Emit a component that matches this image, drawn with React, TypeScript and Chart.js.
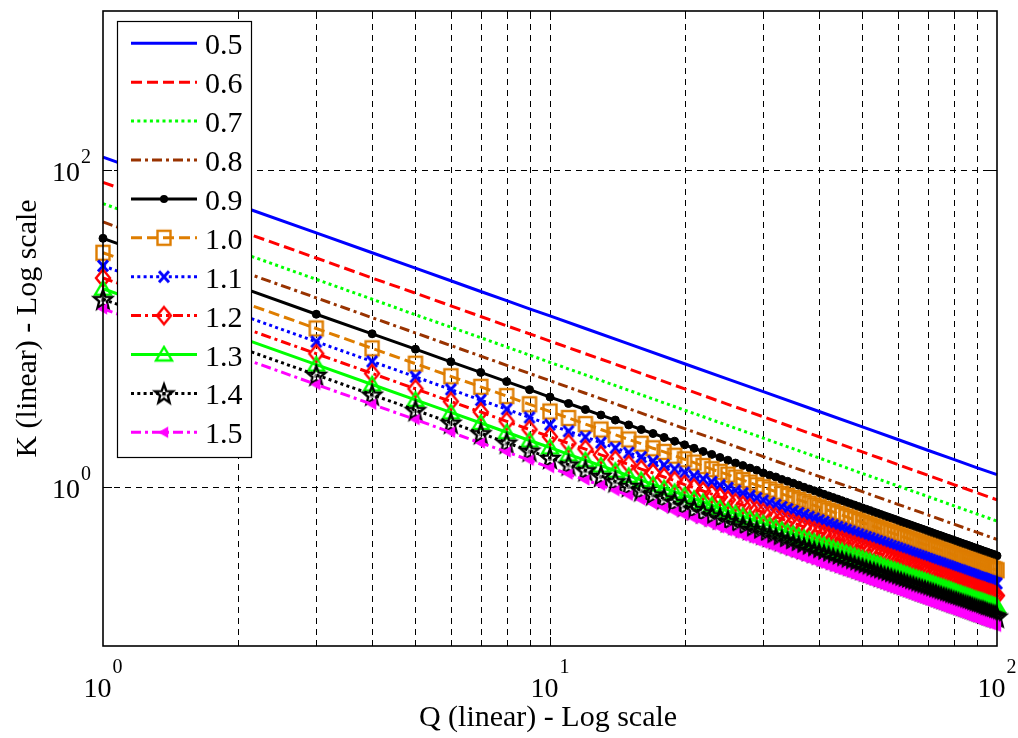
import React, { useEffect, useRef } from "react";
import { Chart, registerables } from "chart.js";

Chart.register(...registerables);

// ---------- data ----------
const Q_ALL = [
  1, 2, 3, 4, 5, 6, 7, 8, 9, 10,
  11, 12, 13, 14, 15, 16, 17, 18, 19, 20,
  21, 22, 23, 24, 25, 26, 27, 28, 29, 30,
  31, 32, 33, 34, 35, 36, 37, 38, 39, 40,
  41, 42, 43, 44, 45, 46, 47, 48, 49, 50,
  51, 52, 53, 54, 55, 56, 57, 58, 59, 60,
  61, 62, 63, 64, 65, 66, 67, 68, 69, 70,
  71, 72, 73, 74, 75, 76, 77, 78, 79, 80,
  81, 82, 83, 84, 85, 86, 87, 88, 89, 90,
  91, 92, 93, 94, 95, 96, 97, 98, 99, 100,
];
const Q_SPARSE = [1, 2, 3, 4, 5, 6, 7, 8, 9, 10, 12, 15, 20, 25, 30, 40, 50, 60, 70, 80, 90, 100];

const K_05 = [120, 60, 40, 30, 24, 20, 17.1, 15, 13.3, 12, 10, 8, 6, 4.8, 4, 3, 2.4, 2, 1.71, 1.5, 1.33, 1.2];
const K_06 = [83.3, 41.7, 27.8, 20.8, 16.7, 13.9, 11.9, 10.4, 9.26, 8.33, 6.94, 5.56, 4.17, 3.33, 2.78, 2.08, 1.67, 1.39, 1.19, 1.04, 0.926, 0.833];
const K_07 = [61.2, 30.6, 20.4, 15.3, 12.2, 10.2, 8.75, 7.65, 6.8, 6.12, 5.1, 4.08, 3.06, 2.45, 2.04, 1.53, 1.22, 1.02, 0.875, 0.765, 0.68, 0.612];
const K_08 = [46.9, 23.4, 15.6, 11.7, 9.38, 7.81, 6.7, 5.86, 5.21, 4.69, 3.91, 3.13, 2.34, 1.88, 1.56, 1.17, 0.938, 0.781, 0.67, 0.586, 0.521, 0.469];

const K_09 = [
  37.0, 18.5, 12.3, 9.26, 7.41, 6.17, 5.29, 4.63, 4.12, 3.7,
  3.37, 3.09, 2.85, 2.65, 2.47, 2.31, 2.18, 2.06, 1.95, 1.85,
  1.76, 1.68, 1.61, 1.54, 1.48, 1.42, 1.37, 1.32, 1.28, 1.23,
  1.19, 1.16, 1.12, 1.09, 1.06, 1.03, 1.0, 0.975, 0.95, 0.926,
  0.903, 0.882, 0.861, 0.842, 0.823, 0.805, 0.788, 0.772, 0.756, 0.741,
  0.726, 0.712, 0.699, 0.686, 0.673, 0.661, 0.65, 0.639, 0.628, 0.617,
  0.607, 0.597, 0.588, 0.579, 0.57, 0.561, 0.553, 0.545, 0.537, 0.529,
  0.522, 0.514, 0.507, 0.5, 0.494, 0.487, 0.481, 0.475, 0.469, 0.463,
  0.457, 0.452, 0.446, 0.441, 0.436, 0.431, 0.426, 0.421, 0.416, 0.412,
  0.407, 0.403, 0.398, 0.394, 0.39, 0.386, 0.382, 0.378, 0.374, 0.37,
];
const K_10 = [
  30, 15, 10, 7.5, 6, 5, 4.29, 3.75, 3.33, 3,
  2.73, 2.5, 2.31, 2.14, 2, 1.88, 1.76, 1.67, 1.58, 1.5,
  1.43, 1.36, 1.3, 1.25, 1.2, 1.15, 1.11, 1.07, 1.03, 1,
  0.968, 0.938, 0.909, 0.882, 0.857, 0.833, 0.811, 0.789, 0.769, 0.75,
  0.732, 0.714, 0.698, 0.682, 0.667, 0.652, 0.638, 0.625, 0.612, 0.6,
  0.588, 0.577, 0.566, 0.556, 0.545, 0.536, 0.526, 0.517, 0.508, 0.5,
  0.492, 0.484, 0.476, 0.469, 0.462, 0.455, 0.448, 0.441, 0.435, 0.429,
  0.423, 0.417, 0.411, 0.405, 0.4, 0.395, 0.39, 0.385, 0.38, 0.375,
  0.37, 0.366, 0.361, 0.357, 0.353, 0.349, 0.345, 0.341, 0.337, 0.333,
  0.33, 0.326, 0.323, 0.319, 0.316, 0.313, 0.309, 0.306, 0.303, 0.3,
];
const K_11 = [
  24.8, 12.4, 8.26, 6.2, 4.96, 4.13, 3.54, 3.1, 2.75, 2.48,
  2.25, 2.07, 1.91, 1.77, 1.65, 1.55, 1.46, 1.38, 1.3, 1.24,
  1.18, 1.13, 1.08, 1.03, 0.992, 0.953, 0.918, 0.885, 0.855, 0.826,
  0.8, 0.775, 0.751, 0.729, 0.708, 0.689, 0.67, 0.652, 0.636, 0.62,
  0.605, 0.59, 0.577, 0.563, 0.551, 0.539, 0.527, 0.516, 0.506, 0.496,
  0.486, 0.477, 0.468, 0.459, 0.451, 0.443, 0.435, 0.427, 0.42, 0.413,
  0.406, 0.4, 0.393, 0.387, 0.381, 0.376, 0.37, 0.365, 0.359, 0.354,
  0.349, 0.344, 0.34, 0.335, 0.331, 0.326, 0.322, 0.318, 0.314, 0.31,
  0.306, 0.302, 0.299, 0.295, 0.292, 0.288, 0.285, 0.282, 0.279, 0.275,
  0.272, 0.269, 0.267, 0.264, 0.261, 0.258, 0.256, 0.253, 0.25, 0.248,
];
const K_12 = [
  20.8, 10.4, 6.94, 5.21, 4.17, 3.47, 2.98, 2.6, 2.31, 2.08,
  1.89, 1.74, 1.6, 1.49, 1.39, 1.3, 1.23, 1.16, 1.1, 1.04,
  0.992, 0.947, 0.906, 0.868, 0.833, 0.801, 0.772, 0.744, 0.718, 0.694,
  0.672, 0.651, 0.631, 0.613, 0.595, 0.579, 0.563, 0.548, 0.534, 0.521,
  0.508, 0.496, 0.484, 0.473, 0.463, 0.453, 0.443, 0.434, 0.425, 0.417,
  0.408, 0.401, 0.393, 0.386, 0.379, 0.372, 0.365, 0.359, 0.353, 0.347,
  0.341, 0.336, 0.331, 0.325, 0.32, 0.316, 0.311, 0.306, 0.302, 0.298,
  0.293, 0.289, 0.285, 0.281, 0.278, 0.274, 0.271, 0.267, 0.264, 0.26,
  0.257, 0.254, 0.251, 0.248, 0.245, 0.242, 0.239, 0.237, 0.234, 0.231,
  0.229, 0.226, 0.224, 0.222, 0.219, 0.217, 0.215, 0.213, 0.21, 0.208,
];
const K_13 = [
  17.8, 8.88, 5.92, 4.44, 3.55, 2.96, 2.54, 2.22, 1.97, 1.78,
  1.61, 1.48, 1.37, 1.27, 1.18, 1.11, 1.04, 0.986, 0.934, 0.888,
  0.845, 0.807, 0.772, 0.74, 0.71, 0.683, 0.657, 0.634, 0.612, 0.592,
  0.573, 0.555, 0.538, 0.522, 0.507, 0.493, 0.48, 0.467, 0.455, 0.444,
  0.433, 0.423, 0.413, 0.403, 0.394, 0.386, 0.378, 0.37, 0.362, 0.355,
  0.348, 0.341, 0.335, 0.329, 0.323, 0.317, 0.311, 0.306, 0.301, 0.296,
  0.291, 0.286, 0.282, 0.277, 0.273, 0.269, 0.265, 0.261, 0.257, 0.254,
  0.25, 0.247, 0.243, 0.24, 0.237, 0.234, 0.231, 0.228, 0.225, 0.222,
  0.219, 0.216, 0.214, 0.211, 0.209, 0.206, 0.204, 0.202, 0.199, 0.197,
  0.195, 0.193, 0.191, 0.189, 0.187, 0.185, 0.183, 0.181, 0.179, 0.178,
];
const K_14 = [
  15.3, 7.65, 5.1, 3.83, 3.06, 2.55, 2.19, 1.91, 1.7, 1.53,
  1.39, 1.28, 1.18, 1.09, 1.02, 0.957, 0.901, 0.851, 0.806, 0.766,
  0.729, 0.696, 0.666, 0.638, 0.612, 0.589, 0.567, 0.547, 0.528, 0.51,
  0.494, 0.478, 0.464, 0.45, 0.437, 0.425, 0.414, 0.403, 0.393, 0.383,
  0.373, 0.365, 0.356, 0.348, 0.34, 0.333, 0.326, 0.319, 0.312, 0.306,
  0.3, 0.294, 0.289, 0.284, 0.278, 0.273, 0.269, 0.264, 0.259, 0.255,
  0.251, 0.247, 0.243, 0.239, 0.236, 0.232, 0.229, 0.225, 0.222, 0.219,
  0.216, 0.213, 0.21, 0.207, 0.204, 0.201, 0.199, 0.196, 0.194, 0.191,
  0.189, 0.187, 0.184, 0.182, 0.18, 0.178, 0.176, 0.174, 0.172, 0.17,
  0.168, 0.166, 0.165, 0.163, 0.161, 0.159, 0.158, 0.156, 0.155, 0.153,
];
const K_15 = [
  13.3, 6.67, 4.44, 3.33, 2.67, 2.22, 1.9, 1.67, 1.48, 1.33,
  1.21, 1.11, 1.03, 0.952, 0.889, 0.833, 0.784, 0.741, 0.702, 0.667,
  0.635, 0.606, 0.58, 0.556, 0.533, 0.513, 0.494, 0.476, 0.46, 0.444,
  0.43, 0.417, 0.404, 0.392, 0.381, 0.37, 0.36, 0.351, 0.342, 0.333,
  0.325, 0.317, 0.31, 0.303, 0.296, 0.29, 0.284, 0.278, 0.272, 0.267,
  0.261, 0.256, 0.252, 0.247, 0.242, 0.238, 0.234, 0.23, 0.226, 0.222,
  0.219, 0.215, 0.212, 0.208, 0.205, 0.202, 0.199, 0.196, 0.193, 0.19,
  0.188, 0.185, 0.183, 0.18, 0.178, 0.175, 0.173, 0.171, 0.169, 0.167,
  0.165, 0.163, 0.161, 0.159, 0.157, 0.155, 0.153, 0.152, 0.15, 0.148,
  0.146, 0.145, 0.143, 0.142, 0.14, 0.139, 0.137, 0.136, 0.135, 0.133,
];

const SERIES_LABELS = ["0.5", "0.6", "0.7", "0.8", "0.9", "1.0", "1.1", "1.2", "1.3", "1.4", "1.5"];
const SERIES_Q = [Q_SPARSE, Q_SPARSE, Q_SPARSE, Q_SPARSE, Q_ALL, Q_ALL, Q_ALL, Q_ALL, Q_ALL, Q_ALL, Q_ALL];
const SERIES_K = [K_05, K_06, K_07, K_08, K_09, K_10, K_11, K_12, K_13, K_14, K_15];

const X_TICKS = [1, 10, 100];
const X_TICK_EXP = ["0", "1", "2"];
const X_GRID = [2, 3, 4, 5, 6, 7, 8, 9, 10, 20, 30, 40, 50, 60, 70, 80, 90];
const Y_TICKS = [1, 100];
const Y_TICK_EXP = ["0", "2"];

const X_TITLE = "Q (linear) - Log scale";
const Y_TITLE = "K (linear) - Log scale";

// ---------- styles ----------
const FONT = "'Liberation Serif', 'Times New Roman', serif";
const ORANGE = "rgb(222,125,0)";
const BROWN = "rgb(153,51,0)";
const LINE_W = 3;

function mk(w: number, h: number, draw: (c: CanvasRenderingContext2D, cx: number, cy: number) => void) {
  const pad = 3;
  let cw = Math.ceil(w + 2 * pad);
  let ch = Math.ceil(h + 2 * pad);
  if (cw % 2) cw++;
  if (ch % 2) ch++;
  const cv = document.createElement("canvas");
  cv.width = cw;
  cv.height = ch;
  const c = cv.getContext("2d")!;
  c.lineJoin = "miter";
  draw(c, cw / 2, ch / 2);
  return cv;
}

function buildMarkers() {
  const square = mk(13, 14, (c, cx, cy) => {
    c.strokeStyle = ORANGE;
    c.lineWidth = 2.4;
    c.strokeRect(cx - 6.5, cy - 7, 13, 14);
  });
  const cross = mk(11, 12, (c, cx, cy) => {
    c.strokeStyle = "#0000ff";
    c.lineWidth = 3;
    c.beginPath();
    c.moveTo(cx - 5, cy - 5.5);
    c.lineTo(cx + 5, cy + 5.5);
    c.moveTo(cx + 5, cy - 5.5);
    c.lineTo(cx - 5, cy + 5.5);
    c.stroke();
  });
  const diamond = mk(14, 17, (c, cx, cy) => {
    c.strokeStyle = "#ff0000";
    c.lineWidth = 2.4;
    c.beginPath();
    c.moveTo(cx, cy - 8.5);
    c.lineTo(cx + 7, cy);
    c.lineTo(cx, cy + 8.5);
    c.lineTo(cx - 7, cy);
    c.closePath();
    c.stroke();
  });
  const triangle = mk(16, 14, (c, cx, cy) => {
    c.strokeStyle = "#00ff00";
    c.lineWidth = 2.4;
    c.beginPath();
    c.moveTo(cx, cy - 7.5);
    c.lineTo(cx + 8, cy + 6);
    c.lineTo(cx - 8, cy + 6);
    c.closePath();
    c.stroke();
  });
  const star = mk(20, 20, (c, cx, cy) => {
    c.strokeStyle = "#000000";
    c.fillStyle = "#000000";
    c.lineWidth = 2.4;
    c.beginPath();
    for (let i = 0; i < 10; i++) {
      const a = -Math.PI / 2 + (i * Math.PI) / 5;
      const r = i % 2 === 0 ? 9.5 : 4;
      const px = cx + r * Math.cos(a);
      const py = cy + 1 + r * Math.sin(a) * 1.05;
      if (i === 0) c.moveTo(px, py);
      else c.lineTo(px, py);
    }
    c.closePath();
    c.stroke();
    c.fillStyle = "rgba(0,0,0,0.55)";
    c.beginPath();
    c.arc(cx, cy + 1, 2.2, 0, Math.PI * 2);
    c.fill();
  });
  const left = mk(8, 9, (c, cx, cy) => {
    c.fillStyle = "#ff00ff";
    c.strokeStyle = "#ff00ff";
    c.lineWidth = 1.4;
    c.beginPath();
    c.moveTo(cx - 4.5, cy);
    c.lineTo(cx + 3.5, cy - 4.5);
    c.lineTo(cx + 3.5, cy + 4.5);
    c.closePath();
    c.fill();
    c.stroke();
  });
  return { square, cross, diamond, triangle, star, left };
}

type Style = {
  color: string;
  dash: number[];
  marker: null | "dot" | HTMLCanvasElement;
};

function drawPow(
  ctx: CanvasRenderingContext2D,
  x: number,
  baseY: number,
  exp: string,
  align: "center" | "right",
  rise: number
) {
  const baseFont = `28px ${FONT}`;
  const expFont = `20px ${FONT}`;
  ctx.font = baseFont;
  const wb = ctx.measureText("10").width;
  ctx.font = expFont;
  const we = ctx.measureText(exp).width;
  const total = wb + we + 1;
  const start = align === "center" ? x - total / 2 : x - total;
  ctx.textAlign = "left";
  ctx.textBaseline = "alphabetic";
  ctx.fillStyle = "#000";
  ctx.font = baseFont;
  ctx.fillText("10", start, baseY);
  ctx.font = expFont;
  ctx.fillText(exp, start + wb + 1, baseY - rise);
}

export default function App() {
  const ref = useRef<HTMLCanvasElement>(null);

  useEffect(() => {
    const canvas = ref.current;
    if (!canvas) return;
    const m = buildMarkers();
    const styles: Style[] = [
      { color: "#0000ff", dash: [], marker: null },
      { color: "#ff0000", dash: [11, 5], marker: null },
      { color: "#00ff00", dash: [3, 3.3], marker: null },
      { color: BROWN, dash: [10, 4, 3, 4], marker: null },
      { color: "#000000", dash: [], marker: "dot" },
      { color: ORANGE, dash: [11, 5], marker: m.square },
      { color: "#0000ff", dash: [3, 3.3], marker: m.cross },
      { color: "#ff0000", dash: [10, 4, 3, 4], marker: m.diamond },
      { color: "#00ff00", dash: [], marker: m.triangle },
      { color: "#000000", dash: [3, 3.3], marker: m.star },
      { color: "#ff00ff", dash: [10, 4, 3, 4], marker: m.left },
    ];

    const datasets = SERIES_LABELS.map((label, i) => {
      const st = styles[i];
      const q = SERIES_Q[i];
      const k = SERIES_K[i];
      const base: any = {
        label,
        data: q.map((qq, j) => ({ x: qq, y: k[j] })),
        borderColor: st.color,
        borderWidth: LINE_W,
        borderDash: st.dash,
        fill: false,
        tension: 0,
        clip: false,
        order: -i,
      };
      if (st.marker === null) {
        base.pointRadius = 0;
      } else if (st.marker === "dot") {
        base.pointStyle = "circle";
        base.pointRadius = 4;
        base.pointBorderWidth = 1;
        base.pointBackgroundColor = "#000";
        base.pointBorderColor = "#000";
      } else {
        base.pointStyle = st.marker;
        base.pointRadius = 8;
      }
      return base;
    });

    const framePlugin = {
      id: "frame",
      beforeDatasetsDraw(chart: any) {
        const ctx: CanvasRenderingContext2D = chart.ctx;
        const { left, right, top, bottom } = chart.chartArea;
        const xs = chart.scales.x;
        const ys = chart.scales.y;
        ctx.save();
        ctx.strokeStyle = "#000";
        ctx.lineWidth = 1;
        ctx.setLineDash([6, 5]);
        for (const g of X_GRID) {
          const px = Math.round(xs.getPixelForValue(g)) + 0.5;
          ctx.beginPath();
          ctx.moveTo(px, bottom);
          ctx.lineTo(px, top);
          ctx.stroke();
        }
        for (const g of Y_TICKS) {
          const py = Math.round(ys.getPixelForValue(g)) + 0.5;
          ctx.beginPath();
          ctx.moveTo(left, py);
          ctx.lineTo(right, py);
          ctx.stroke();
        }
        ctx.restore();
      },
      afterDraw(chart: any) {
        const ctx: CanvasRenderingContext2D = chart.ctx;
        const { left, right, top, bottom } = chart.chartArea;
        const xs = chart.scales.x;
        const ys = chart.scales.y;
        ctx.save();
        // ticks
        ctx.strokeStyle = "#000";
        ctx.lineWidth = 1;
        ctx.setLineDash([]);
        for (const g of X_GRID) {
          const px = Math.round(xs.getPixelForValue(g)) + 0.5;
          const len = g === 10 ? 9 : 6;
          ctx.beginPath();
          ctx.moveTo(px, bottom);
          ctx.lineTo(px, bottom - len);
          ctx.moveTo(px, top);
          ctx.lineTo(px, top + len);
          ctx.stroke();
        }
        for (const g of Y_TICKS) {
          const py = Math.round(ys.getPixelForValue(g)) + 0.5;
          ctx.beginPath();
          ctx.moveTo(left, py);
          ctx.lineTo(left + 9, py);
          ctx.moveTo(right, py);
          ctx.lineTo(right - 9, py);
          ctx.stroke();
        }
        // axes box
        ctx.lineWidth = 1.6;
        ctx.strokeRect(left, top, right - left, bottom - top);

        // tick labels
        X_TICKS.forEach((t, i) => {
          drawPow(ctx, xs.getPixelForValue(t), 697, X_TICK_EXP[i], "center", 24);
        });
        Y_TICKS.forEach((t, i) => {
          drawPow(ctx, 91, ys.getPixelForValue(t) + 11, Y_TICK_EXP[i], "right", 18);
        });

        // axis titles
        ctx.fillStyle = "#000";
        ctx.font = `30px ${FONT}`;
        ctx.textAlign = "center";
        ctx.textBaseline = "alphabetic";
        ctx.fillText(X_TITLE, (left + right) / 2 - 2, 726);
        ctx.save();
        ctx.translate(36, (top + bottom) / 2);
        ctx.rotate(-Math.PI / 2);
        ctx.fillText(Y_TITLE, 0, 0);
        ctx.restore();

        // legend
        const lx = 117, ly = 21, lw = 134, lh = 436;
        ctx.fillStyle = "#fff";
        ctx.fillRect(lx, ly, lw, lh);
        ctx.lineWidth = 1.2;
        ctx.strokeStyle = "#000";
        ctx.strokeRect(lx + 0.5, ly + 0.5, lw, lh);
        SERIES_LABELS.forEach((label, i) => {
          const st = styles[i];
          const y = 43.3 + i * 38.9;
          ctx.save();
          ctx.strokeStyle = st.color;
          ctx.lineWidth = LINE_W;
          ctx.setLineDash(st.dash);
          ctx.beginPath();
          ctx.moveTo(131, y);
          ctx.lineTo(197, y);
          ctx.stroke();
          ctx.restore();
          const cx = 164;
          if (st.marker === "dot") {
            ctx.fillStyle = "#000";
            ctx.beginPath();
            ctx.arc(cx, y, 4, 0, Math.PI * 2);
            ctx.fill();
          } else if (st.marker) {
            const im = st.marker;
            ctx.drawImage(im, cx - im.width / 2, y - im.height / 2);
          }
          ctx.fillStyle = "#000";
          ctx.font = `30px ${FONT}`;
          ctx.textAlign = "left";
          ctx.textBaseline = "alphabetic";
          ctx.fillText(label, 205, y + 11);
        });
        ctx.restore();
      },
    };

    const chart = new Chart(canvas, {
      type: "line",
      data: { datasets },
      options: {
        animation: false,
        responsive: false,
        events: [],
        layout: { padding: { left: 0, top: 7, right: 21, bottom: 0 } },
        plugins: { legend: { display: false }, tooltip: { enabled: false } },
        scales: {
          x: {
            type: "logarithmic",
            min: 1,
            max: 100,
            grid: { display: false },
            ticks: { display: false },
            border: { display: false },
            afterFit: (s: any) => {
              s.height = 92;
            },
          },
          y: {
            type: "logarithmic",
            min: 0.1,
            max: 1000,
            grid: { display: false },
            ticks: { display: false },
            border: { display: false },
            afterFit: (s: any) => {
              s.width = 103;
            },
          },
        },
      },
      plugins: [framePlugin],
    } as any);

    return () => chart.destroy();
  }, []);

  return (
    <div style={{ position: "absolute", left: 0, top: 0, width: 1018, height: 738, background: "#fff" }}>
      <canvas ref={ref} width={1018} height={738} style={{ display: "block", width: 1018, height: 738 }} />
    </div>
  );
}
